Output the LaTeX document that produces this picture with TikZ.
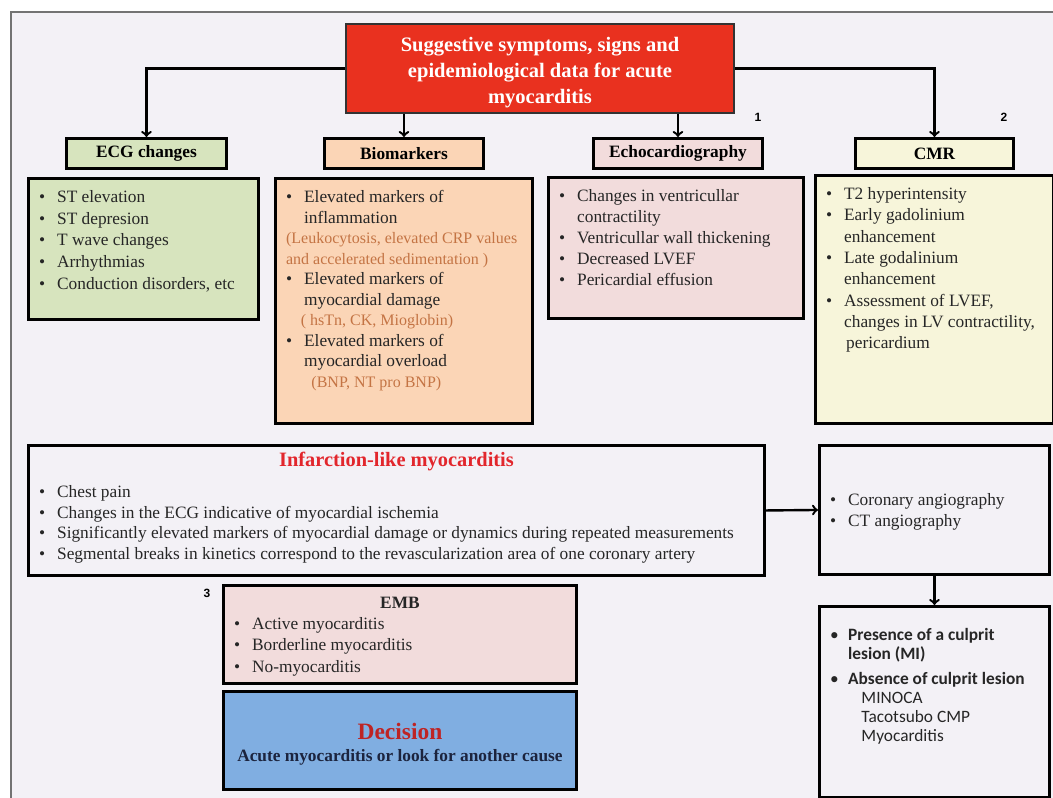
\documentclass[tikz,border=0pt]{standalone}
\usepackage{fontspec}
\setmainfont{Liberation Serif}
\newfontfamily\calibri{Carlito}
\newfontfamily\etiqueta{Liberation Sans}
\usetikzlibrary{arrows}

\definecolor{fondo}{RGB}{243,241,246}
\definecolor{rojo}{RGB}{233,49,31}
\definecolor{verde}{RGB}{215,228,190}
\definecolor{melocoton}{RGB}{251,213,182}
\definecolor{rosa}{RGB}{242,220,220}
\definecolor{crema}{RGB}{247,245,218}
\definecolor{azul}{RGB}{128,174,225}
\definecolor{marron}{RGB}{196,116,68}
\definecolor{titulo}{RGB}{226,38,44}
\definecolor{granate}{RGB}{190,36,36}
\definecolor{marino}{RGB}{28,36,62}

\newlength\padx
\newlength\pady
\setlength\padx{8pt}
\setlength\pady{9pt}

\begin{document}
\begin{tikzpicture}[x=0.75pt,y=-0.75pt]

        % Стили:
        \tikzstyle{caja}=[draw=black, line width=2.2pt]
        \tikzstyle{cabecera}=[caja, font=\fontsize{13}{15}\selectfont\bfseries]
        \tikzstyle{cuerpo}=[caja, text=black!85]
        \tikzstyle{linea}=[draw, line width=1.8pt, -to]
        \tikzstyle{numero}=[inner sep=0pt, font=\etiqueta\bfseries\fontsize{9}{10}\selectfont]

        \newcommand{\itemb}{\makebox[13.5pt][l]{\textbullet}}
        \newcommand{\indb}{\hspace*{13.5pt}}

        % Блоки: имя, стиль, x1, y1, x2, y2, текст
        \newcommand{\bloque}[7]{%
        \node (#1) [#2, anchor=north west, inner xsep=\padx, inner ysep=\pady] at (#3,#4)
            {\parbox[c][\dimexpr(#6pt-#4pt)*3/4-2\pady\relax][t]{\dimexpr(#5pt-#3pt)*3/4-2\padx\relax}{\raggedright #7}};}
        \newcommand{\bloquec}[7]{%
        \node (#1) [#2, anchor=north west, inner xsep=\padx, inner ysep=0pt] at (#3,#4)
            {\parbox[c][\dimexpr(#6pt-#4pt)*3/4\relax][c]{\dimexpr(#5pt-#3pt)*3/4-2\padx\relax}{\centering #7}};}

        \useasboundingbox (0,0) rectangle (1053,798);
        \clip (0,0) rectangle (1053,798);

        % Фон:
        \path [draw=black!55, line width=1.5pt, fill=fondo] (11,12) rectangle (1070,815);

        % Прямоугольники:
        \bloquec{t}{caja, draw=black!80, line width=1.5pt, fill=rojo, text=white,
            font=\fontsize{15.4}{19.5}\selectfont\bfseries}{345}{23}{733}{112}{%
            \vspace*{6pt}
            Suggestive symptoms, signs and\\ epidemiological data for acute\\ myocarditis}

        \bloquec{hecg}{cabecera, fill=verde}{65}{137}{225}{167}{ECG changes}
        \bloquec{hbio}{cabecera, fill=melocoton}{323}{137}{482}{167}{Biomarkers}
        \bloquec{hecho}{cabecera, fill=rosa}{592}{137}{761}{167}{Echocardiography}
        \bloquec{hcmr}{cabecera, fill=crema}{854}{137}{1012}{167}{CMR}

        \bloque{becg}{cuerpo, fill=verde, font=\fontsize{13}{16.3}\selectfont}{27}{177}{257}{318}{%
            \itemb ST elevation\\ \itemb ST depresion\\ \itemb T wave changes\\
            \itemb Arrhythmias\\ \itemb Conduction disorders, etc}

        \bloque{bbio}{cuerpo, fill=melocoton, font=\fontsize{13}{15.4}\selectfont}{274}{177}{531}{422}{%
            \itemb Elevated markers of\\
            \indb inflammation\\
            {\color{marron}\fontsize{12}{15.4}\selectfont(Leukocytosis, elevated CRP values}\\
            {\color{marron}\fontsize{12}{15.4}\selectfont and accelerated sedimentation )}\\
            \itemb Elevated markers of\\
            \indb myocardial damage\\
            \hspace*{11pt}{\color{marron}\fontsize{12}{15.4}\selectfont( hsTn, CK, Mioglobin)}\\
            \itemb Elevated markers of\\
            \indb myocardial overload\\
            \hspace*{19pt}{\color{marron}\fontsize{12}{15.4}\selectfont(BNP, NT pro BNP)}}

        \bloque{becho}{cuerpo, fill=rosa, font=\fontsize{13}{15.8}\selectfont}{547}{176}{802}{317}{%
            \itemb Changes in ventricullar\\ \indb contractility\\
            \itemb Ventricullar wall thickening\\ \itemb Decreased LVEF\\
            \itemb Pericardial effusion}

        \bloque{bcmr}{cuerpo, fill=crema, font=\fontsize{13}{16}\selectfont}{814}{174}{1052}{422}{%
            \itemb T2 hyperintensity\\ \itemb Early gadolinium\\ \indb enhancement\\
            \itemb Late godalinium\\ \indb enhancement\\ \itemb Assessment of LVEF,\\
            \indb changes in LV contractility,\\ \indb\hspace*{1.5pt}pericardium}

        \setlength\pady{5pt}
        \bloque{inf}{cuerpo, fill=fondo, font=\fontsize{13}{15.4}\selectfont}{27}{444}{763}{574}{%
            {\centering\fontsize{15.3}{17}\selectfont\bfseries\color{titulo}Infarction-like myocarditis\par}
            \vspace{8pt}
            \itemb Chest pain\\
            \itemb Changes in the ECG indicative of myocardial ischemia\\
            \itemb Significantly elevated markers of myocardial damage or dynamics during repeated measurements\\
            \itemb Segmental breaks in kinetics correspond to the revascularization area of one coronary artery}
        \setlength\pady{9pt}

        \bloquec{angio}{cuerpo, fill=fondo, font=\fontsize{13}{15.8}\selectfont}{818}{444}{1048}{573}{%
            \vspace*{3pt}
            \raggedright\itemb Coronary angiography\\ \itemb CT angiography}

        \bloque{lesion}{cuerpo, fill=fondo, font=\calibri\fontsize{13}{14.3}\selectfont}{818}{605}{1048}{796}{%
            \vspace*{7.5pt}
            \itemb\textbf{Presence of a culprit}\\ \indb\textbf{lesion (MI)}\par
            \vspace{4.5pt}
            \itemb\textbf{Absence of culprit lesion}\\
            \indb\hspace*{10pt}MINOCA\\
            \indb\hspace*{10pt}Tacotsubo CMP\\
            \indb\hspace*{10pt}Myocarditis}

        \bloque{emb}{cuerpo, fill=rosa, font=\fontsize{13}{15.8}\selectfont}{222}{584}{575}{682}{%
            {\centering\bfseries EMB\par}
            \itemb Active myocarditis\\ \itemb Borderline myocarditis\\ \itemb No-myocarditis}

        \bloquec{dec}{caja, fill=azul, font=\fontsize{13}{16.5}\selectfont}{222}{690}{575}{788}{%
            \vspace*{6pt}
            {\fontsize{17.6}{20}\selectfont\bfseries\color{granate}Decision}\\
            {\bfseries\color{marino}Acute myocarditis or look for another cause}}

        % Номера:
        \node (n1) [numero] at (758,117) {1};
        \node (n2) [numero] at (1004,117) {2};
        \node (n3) [numero] at (207,593) {3};

        % Стрелки:
        \path [linea] (t.west) -| (hecg.north);
        \path [linea] (t.south -| hbio.north) -- (hbio.north);
        \path [linea] (t.south -| hecho.north) -- (hecho.north);
        \path [linea] (t.east) -| (hcmr.north);
        \path [linea] (inf.east) -- (angio.west);
        \path [linea] (angio.south) -- (lesion.north);
\end{tikzpicture}
\end{document}
